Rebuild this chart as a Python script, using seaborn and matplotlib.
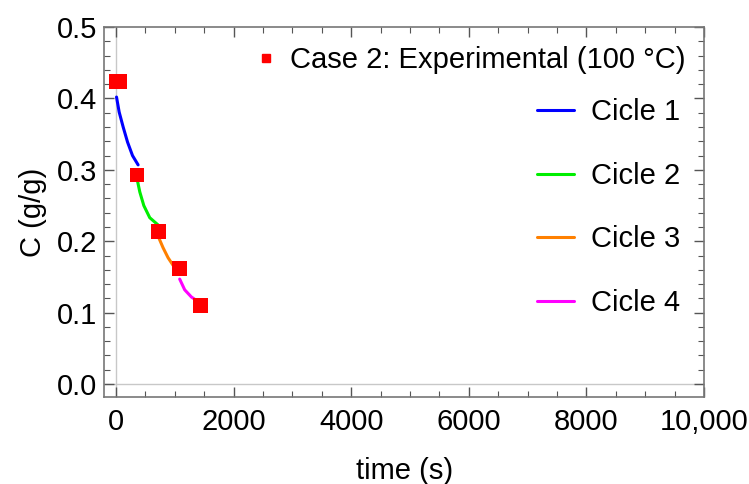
import numpy as np
import matplotlib
matplotlib.use("Agg")
import matplotlib.pyplot as plt
from matplotlib.lines import Line2D
from matplotlib.ticker import MultipleLocator, FixedLocator
import seaborn as sns
import pandas as pd

# experimental points
exp_t = [0, 60, 360, 720, 1080, 1440]
exp_c = [0.424, 0.424, 0.293, 0.214, 0.162, 0.110]

# model curves, one per cycle
c1_t = [11, 56, 124, 198, 283, 378]
c1_c = [0.402, 0.381, 0.360, 0.339, 0.320, 0.307]
c2_t = [361, 407, 475, 576, 729]
c2_c = [0.287, 0.269, 0.250, 0.233, 0.222]
c3_t = [729, 802, 887, 983, 1085]
c3_c = [0.205, 0.191, 0.177, 0.165, 0.158]
c4_t = [1085, 1170, 1283, 1424]
c4_c = [0.147, 0.132, 0.122, 0.114]

cycles = ["Cicle 1", "Cicle 2", "Cicle 3", "Cicle 4"]
colors = ["#0000ff", "#00ee00", "#ff8000", "#ff00ff"]

xticks = [0, 2000, 4000, 6000, 8000, 10000]
xlabels = ["0", "2000", "4000", "6000", "8000", "10,000"]
yticks = [0.0, 0.1, 0.2, 0.3, 0.4, 0.5]

rows = []
for name, ts, cs in zip(cycles, [c1_t, c2_t, c3_t, c4_t], [c1_c, c2_c, c3_c, c4_c]):
    for t, c in zip(ts, cs):
        rows.append({"time": t, "C": c, "cycle": name})
curves = pd.DataFrame(rows)
exp = pd.DataFrame({"time": exp_t, "C": exp_c})

sns.set_style("ticks")
plt.rcParams["font.family"] = ["Liberation Sans", "DejaVu Sans"]
plt.rcParams["text.color"] = "black"
fs = 21

fig = plt.figure(figsize=(7.49, 4.84), dpi=100)
ax = fig.add_axes([0.139, 0.180, 0.801, 0.764])

ax.axhline(0, color="#c8c8c8", lw=1, zorder=0)
ax.axvline(0, color="#c8c8c8", lw=1, zorder=0)

sns.lineplot(data=curves, x="time", y="C", hue="cycle", palette=colors,
             estimator=None, sort=False, lw=2.2, legend=False, ax=ax)
sns.scatterplot(data=exp, x="time", y="C", color="red", marker="s", s=110,
                edgecolor="none", legend=False, ax=ax, zorder=5)

ax.set_xlim(-200, 10000)
ax.set_ylim(-0.018, 0.5)
ax.xaxis.set_major_locator(FixedLocator(xticks))
ax.set_xticklabels(xlabels)
ax.xaxis.set_minor_locator(MultipleLocator(500))
ax.set_yticks(yticks)
ax.set_yticklabels([f"{v:.1f}" for v in yticks])
ax.yaxis.set_minor_locator(MultipleLocator(0.02))
ax.tick_params(which="both", direction="in", top=True, right=True,
               color="#555555", labelcolor="black", labelsize=fs, pad=5)
ax.tick_params(axis="x", which="major", pad=8)
ax.tick_params(which="major", length=7, width=1)
ax.tick_params(which="minor", length=4, width=0.8)
for s in ax.spines.values():
    s.set_color("#777777")
    s.set_linewidth(1.2)

ax.set_xlabel("time (s)", fontsize=fs, labelpad=15, color="black")
ax.set_ylabel("C (g/g)", fontsize=fs, labelpad=7, color="black")

h_exp = [Line2D([], [], marker="s", color="red", ls="none", markersize=6)]
leg1 = ax.legend(h_exp, ["Case 2: Experimental (100 °C)"], loc="upper right",
                 bbox_to_anchor=(1.0, 1.0), frameon=False, fontsize=fs,
                 handlelength=0.6, handletextpad=0.5, borderaxespad=0.25)
ax.add_artist(leg1)
h_lines = [Line2D([], [], color=c, lw=2.2) for c in colors]
ax.legend(h_lines, cycles, loc="upper right", bbox_to_anchor=(0.99, 0.855),
          frameon=False, fontsize=fs, labelspacing=1.22, handlelength=1.25,
          handletextpad=0.6, borderaxespad=0.2)

fig.savefig("out.png", dpi=100)
